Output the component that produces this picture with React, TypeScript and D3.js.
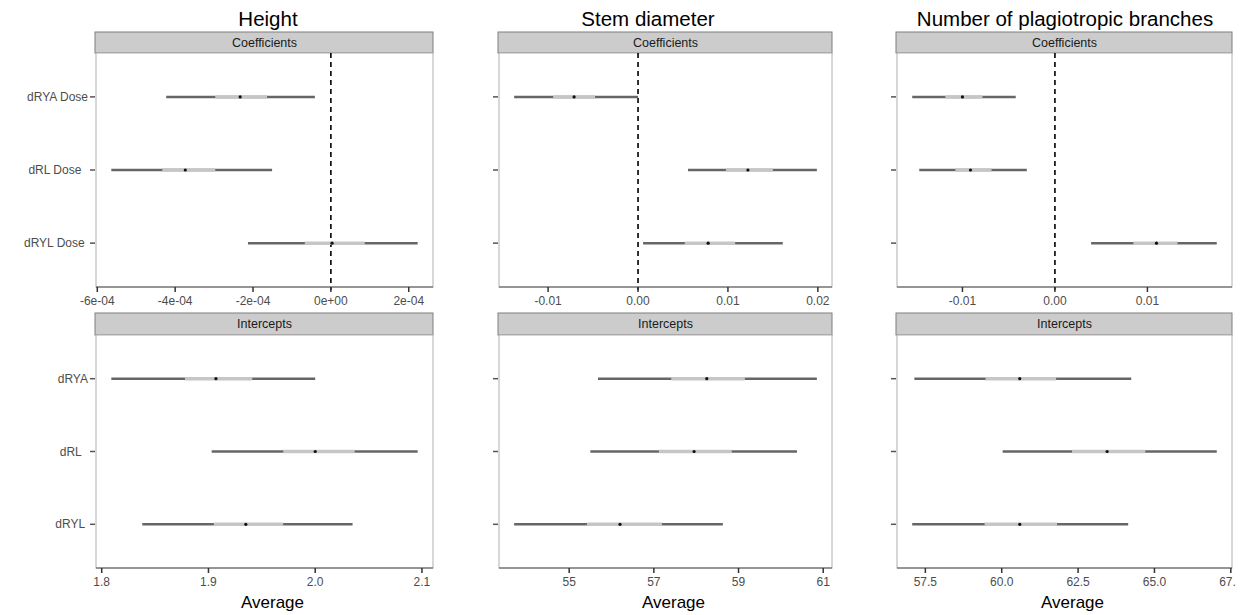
import React from "react";
import * as d3 from "d3";

// ---------- data ----------
const titles = ["Height", "Stem diameter", "Number of plagiotropic branches"];
const stripLabels = ["Coefficients", "Intercepts"];
const coefLabels = ["dRYA Dose", "dRL Dose  ", "dRYL Dose "];
const interceptLabels = ["dRYA", "dRL  ", "dRYL "];
const xAxisTitle = "Average";

// each row: [outerLow, innerLow, estimate, innerHigh, outerHigh]
const heightCoef = [
  [-4.23e-4, -2.97e-4, -2.33e-4, -1.64e-4, -0.41e-4],
  [-5.64e-4, -4.33e-4, -3.74e-4, -2.97e-4, -1.51e-4],
  [-2.13e-4, -0.67e-4, 0.03e-4, 0.87e-4, 2.23e-4],
];
const heightInt = [
  [1.809, 1.878, 1.907, 1.941, 2.0],
  [1.903, 1.97, 2.0, 2.037, 2.096],
  [1.838, 1.905, 1.935, 1.97, 2.035],
];
const stemCoef = [
  [-0.01378, -0.00944, -0.00711, -0.00478, 0.0],
  [0.00556, 0.00978, 0.01222, 0.015, 0.01989],
  [0.00056, 0.0052, 0.0078, 0.0108, 0.0161],
];
const stemInt = [
  [55.68, 57.41, 58.25, 59.15, 60.85],
  [55.5, 57.12, 57.95, 58.84, 60.38],
  [53.7, 55.42, 56.2, 57.19, 58.63],
];
const plagCoef = [
  [-0.01543, -0.01185, -0.01, -0.00783, -0.00424],
  [-0.01467, -0.01076, -0.00913, -0.00685, -0.00304],
  [0.00391, 0.00848, 0.01098, 0.01326, 0.0175],
];
const plagInt = [
  [57.14, 59.47, 60.59, 61.78, 64.24],
  [60.03, 62.3, 63.45, 64.7, 67.04],
  [57.07, 59.44, 60.59, 61.81, 64.14],
];

const heightCoefTicks = [-6e-4, -4e-4, -2e-4, 0, 2e-4];
const heightCoefTickLabels = ["-6e-04", "-4e-04", "-2e-04", "0e+00", "2e-04"];
const heightIntTicks = [1.8, 1.9, 2.0, 2.1];
const heightIntTickLabels = ["1.8", "1.9", "2.0", "2.1"];
const stemCoefTicks = [-0.01, 0, 0.01, 0.02];
const stemCoefTickLabels = ["-0.01", "0.00", "0.01", "0.02"];
const stemIntTicks = [55, 57, 59, 61];
const stemIntTickLabels = ["55", "57", "59", "61"];
const plagCoefTicks = [-0.01, 0, 0.01];
const plagCoefTickLabels = ["-0.01", "0.00", "0.01"];
const plagIntTicks = [57.5, 60, 62.5, 65, 67.5];
const plagIntTickLabels = ["57.5", "60.0", "62.5", "65.0", "67.5"];

const coefData = [heightCoef, stemCoef, plagCoef];
const intData = [heightInt, stemInt, plagInt];
const coefTicks = [heightCoefTicks, stemCoefTicks, plagCoefTicks];
const coefTickLabels = [heightCoefTickLabels, stemCoefTickLabels, plagCoefTickLabels];
const intTicks = [heightIntTicks, stemIntTicks, plagIntTicks];
const intTickLabels = [heightIntTickLabels, stemIntTickLabels, plagIntTickLabels];

// ---------- layout ----------
const W = 1244;
const H = 615;
const FONT = "'Liberation Sans', Arial, Helvetica, sans-serif";
const cols = [
  { x0: 96, x1: 433, titleX: 268 },
  { x0: 499, x1: 832, titleX: 648 },
  { x0: 897, x1: 1232, titleX: 1065 },
];
const rowsLayout = [
  { stripY: 32, y0: 53, y1: 287 },
  { stripY: 313, y0: 335, y1: 568 },
];

function expandDomain(rows: number[][]): [number, number] {
  const lo = d3.min(rows, (r) => r[0]) as number;
  const hi = d3.max(rows, (r) => r[4]) as number;
  const pad = (hi - lo) * 0.05;
  return [lo - pad, hi + pad];
}

type PanelProps = {
  col: number;
  row: number;
  data: number[][];
  ticks: number[];
  tickLabels: string[];
  labels: string[];
  showLabels: boolean;
  zeroLine: boolean;
  strip: string;
  axisTitle?: string;
};

function Panel(p: PanelProps) {
  const c = cols[p.col];
  const r = rowsLayout[p.row];
  const x = d3.scaleLinear().domain(expandDomain(p.data)).range([c.x0, c.x1]);
  const y = d3
    .scalePoint<number>()
    .domain(p.data.map((_, i) => i))
    .range([r.y0, r.y1])
    .padding(0.6);
  const clipId = `clip-${p.col}-${p.row}`;
  return (
    <g>
      <defs>
        <clipPath id={clipId}>
          <rect x={0} y={0} width={1236} height={H} />
        </clipPath>
      </defs>
      {/* strip */}
      <rect x={c.x0 - 1} y={r.stripY} width={c.x1 - c.x0 + 1} height={r.y0 - r.stripY} fill="#cccccc" stroke="#7f7f7f" strokeWidth={1} />
      <text x={(c.x0 + c.x1) / 2} y={r.stripY + 15} textAnchor="middle" fontSize={12.5} fill="#1a1a1a" fontFamily={FONT}>
        {p.strip}
      </text>
      {/* panel */}
      <rect x={c.x0} y={r.y0} width={c.x1 - c.x0} height={r.y1 - r.y0} fill="#ffffff" stroke="#b0b0b0" strokeWidth={1} />
      {p.zeroLine && (
        <line x1={x(0)} x2={x(0)} y1={r.y0} y2={r.y1 + 3} stroke="#000" strokeWidth={1.6} strokeDasharray="5,4" />
      )}
      {/* marks */}
      {p.data.map((d, i) => {
        const yy = y(i) as number;
        return (
          <g key={i}>
            <line x1={x(d[0])} x2={x(d[4])} y1={yy} y2={yy} stroke="#666666" strokeWidth={2.5} />
            <line x1={x(d[1])} x2={x(d[3])} y1={yy} y2={yy} stroke="#c6c6c6" strokeWidth={3.5} />
            <circle cx={x(d[2])} cy={yy} r={1.6} fill="#111" />
          </g>
        );
      })}
      {/* y ticks */}
      {p.data.map((_, i) => {
        const yy = y(i) as number;
        return (
          <g key={"yt" + i}>
            <line x1={c.x0 - 6} x2={c.x0 - 1} y1={yy} y2={yy} stroke="#555" strokeWidth={1.5} />
            {p.showLabels && (
              <text x={c.x0 - 8} y={yy + 4} textAnchor="end" fontSize={12} fill="#4d4d4d" fontFamily={FONT} style={{ whiteSpace: "pre" }}>
                {p.labels[i]}
              </text>
            )}
          </g>
        );
      })}
      {/* x axis */}
      <line x1={c.x0} x2={c.x1} y1={r.y1} y2={r.y1} stroke="#555" strokeWidth={1.2} />
      <g clipPath={`url(#${clipId})`}>
        {p.ticks.map((t, i) => (
          <g key={"xt" + i}>
            <line x1={x(t)} x2={x(t)} y1={r.y1} y2={r.y1 + 5} stroke="#333" strokeWidth={1.5} />
            <text x={x(t)} y={r.y1 + 18} textAnchor="middle" fontSize={12} fill="#4d4d4d" fontFamily={FONT}>
              {p.tickLabels[i]}
            </text>
          </g>
        ))}
      </g>
      {p.axisTitle && (
        <text x={(c.x0 + c.x1) / 2 + 8} y={r.y1 + 40} textAnchor="middle" fontSize={17} fill="#000" fontFamily={FONT}>
          {p.axisTitle}
        </text>
      )}
    </g>
  );
}

export default function App() {
  return (
    <svg width={W} height={H} style={{ position: "absolute", left: 0, top: 0, background: "#fff" }}>
      <rect x={0} y={0} width={W} height={H} fill="#fff" />
      {titles.map((t, i) => (
        <text key={t} x={cols[i].titleX} y={26} textAnchor="middle" fontSize={20.5} fill="#000" fontFamily={FONT}>
          {t}
        </text>
      ))}
      {[0, 1, 2].map((ci) => (
        <Panel
          key={"c" + ci}
          col={ci}
          row={0}
          data={coefData[ci]}
          ticks={coefTicks[ci]}
          tickLabels={coefTickLabels[ci]}
          labels={coefLabels}
          showLabels={ci === 0}
          zeroLine={true}
          strip={stripLabels[0]}
        />
      ))}
      {[0, 1, 2].map((ci) => (
        <Panel
          key={"i" + ci}
          col={ci}
          row={1}
          data={intData[ci]}
          ticks={intTicks[ci]}
          tickLabels={intTickLabels[ci]}
          labels={interceptLabels}
          showLabels={ci === 0}
          zeroLine={false}
          strip={stripLabels[1]}
          axisTitle={xAxisTitle}
        />
      ))}
    </svg>
  );
}
